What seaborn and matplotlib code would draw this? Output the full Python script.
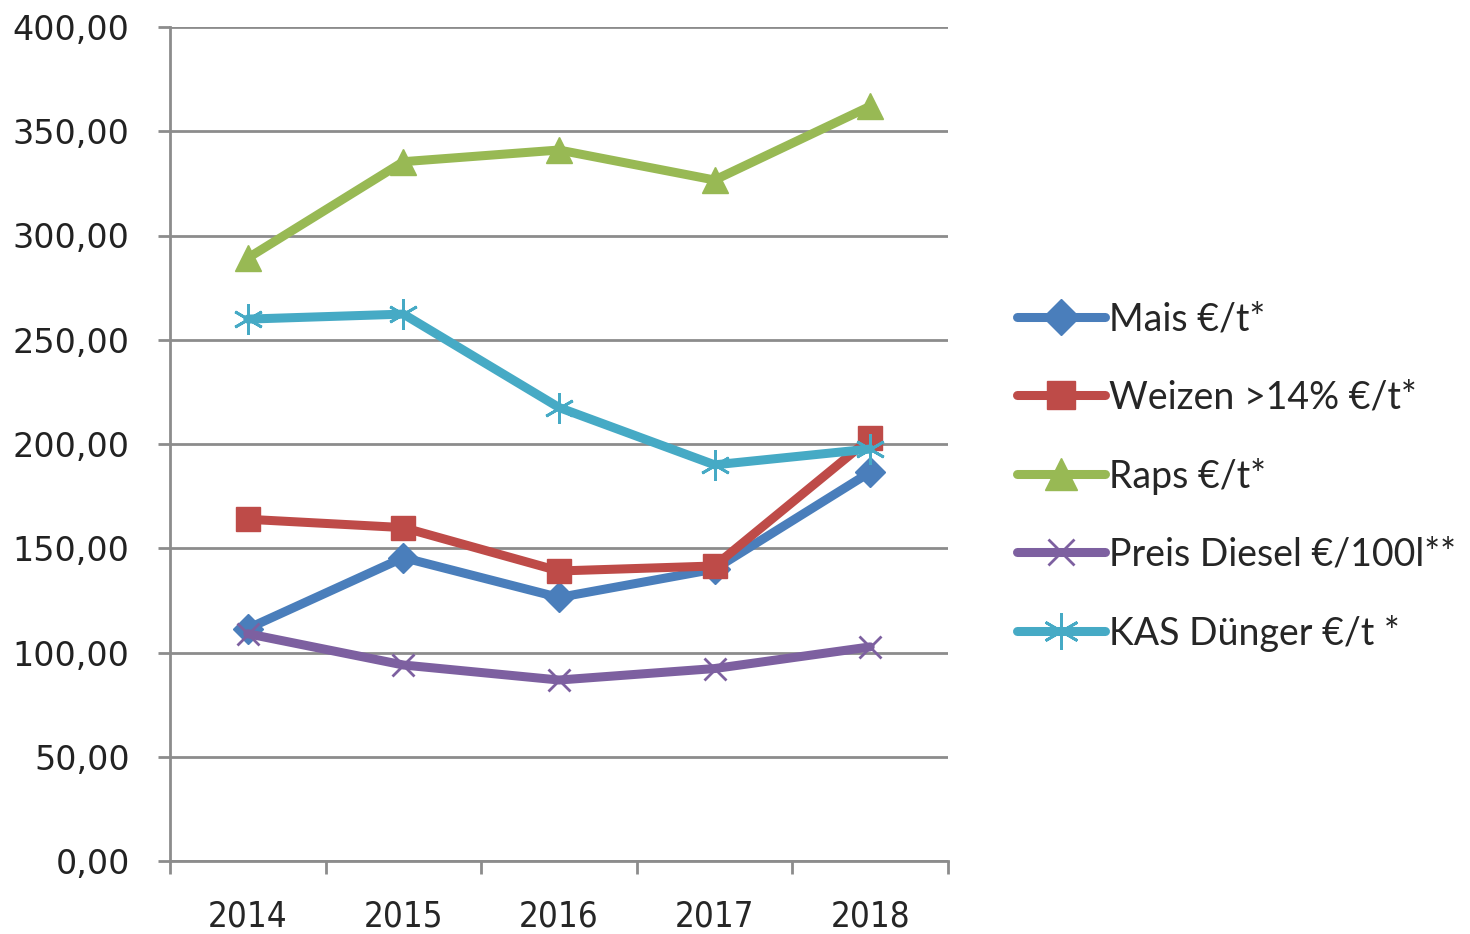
import pandas as pd
import numpy as np
import matplotlib
matplotlib.use("Agg")
import matplotlib.pyplot as plt
import seaborn as sns
from matplotlib.ticker import FixedLocator, FuncFormatter

# --- DATA ---
years = ["2014", "2015", "2016", "2017", "2018"]
mais = [111.5, 145.5, 126.4, 140.0, 186.5]
weizen = [163.9, 159.9, 139.1, 141.5, 202.7]
raps = [289.2, 335.4, 341.0, 326.6, 362.0]
diesel = [109.0, 94.0, 86.8, 92.3, 102.7]
kas = [259.9, 262.3, 217.5, 190.0, 197.6]

series_names = ["Mais €/t*", "Weizen >14% €/t*", "Raps €/t*",
                "Preis Diesel €/100l**", "KAS Dünger €/t *"]
series_values = [mais, weizen, raps, diesel, kas]

rows = []
for name, vals in zip(series_names, series_values):
    for i, v in enumerate(vals):
        rows.append({"series": name, "pos": i, "value": v})
df = pd.DataFrame(rows)

# --- STYLE ---
colors = ["#4A7EBB", "#BE4B48", "#98B954", "#7D60A0", "#46AAC5"]
markers = ["D", "s", "^", "x", (6, 2, 0)]
msizes = [15, 17, 19, 16, 22]
medges = [1, 1, 1, 2, 2]

sns.set_style("white")
plt.rcParams["font.family"] = ["DejaVu Sans"]

fig = plt.figure(figsize=(14.7, 9.34), dpi=100)
ax = fig.add_axes([170 / 1470, 1 - 861 / 934, (948 - 170) / 1470, (861 - 27) / 934])

for name, col, mk, ms, mew in zip(series_names, colors, markers, msizes, medges):
    sub = df[df["series"] == name]
    sns.lineplot(data=sub, x="pos", y="value", ax=ax, color=col, linewidth=6.5,
                 marker=mk, markersize=ms, markeredgewidth=mew,
                 markeredgecolor=col, markerfacecolor=col, label=name,
                 zorder=3)

# axes & grid
ax.set_xlim(-0.5, 4.5)
ax.set_ylim(0, 400)
ax.set_yticks(np.arange(0, 401, 50))
ax.yaxis.set_major_formatter(FuncFormatter(lambda v, p: f"{v:.2f}".replace(".", ",")))
ax.yaxis.grid(True, color="#8c8c8c", linewidth=2)
ax.set_axisbelow(True)

ax.set_xticks(range(len(years)))
ax.set_xticklabels(years, fontsize=25, family=["DejaVu Sans"], fontstretch="condensed")
ax.xaxis.set_minor_locator(FixedLocator(np.arange(-0.5, 4.6, 1)))
ax.tick_params(axis="x", which="both", bottom=True)
ax.tick_params(axis="x", which="major", length=0, pad=28)
ax.tick_params(axis="x", which="minor", length=9, width=2, color="#8c8c8c", direction="out")
ax.tick_params(axis="y", left=True, length=9, width=2, color="#8c8c8c", direction="out",
               labelsize=24, pad=20)
for lab in ax.get_yticklabels():
    lab.set_color("#222222")

for s in ["top", "right"]:
    ax.spines[s].set_visible(False)
for s in ["left", "bottom"]:
    ax.spines[s].set_color("#8c8c8c")
    ax.spines[s].set_linewidth(2)

ax.set_xlabel("")
ax.set_ylabel("")

leg = ax.legend(loc="center left", bbox_to_anchor=(1.069, 0.461), frameon=False,
                prop={"family": ["Lato", "DejaVu Sans"], "size": 27},
                handlelength=2.35, handletextpad=0.1, labelspacing=1.12,
                borderaxespad=0, markerscale=1.2)

fig.savefig("out.png", dpi=100)
